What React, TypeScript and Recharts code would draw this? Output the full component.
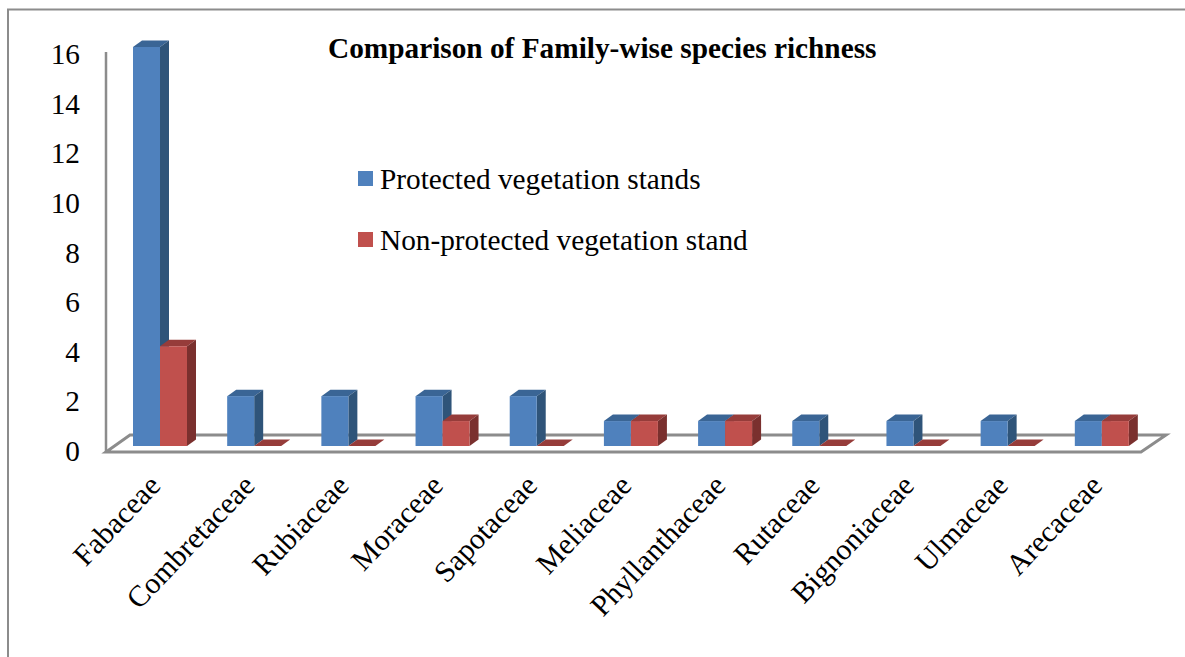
import React from 'react';
import { BarChart, Bar, XAxis, YAxis, Legend } from 'recharts';

const categories = ['Fabaceae','Combretaceae','Rubiaceae','Moraceae','Sapotaceae','Meliaceae','Phyllanthaceae','Rutaceae','Bignoniaceae','Ulmaceae','Arecaceae'];
const protectedStands = [16,2,2,2,2,1,1,1,1,1,1];
const nonProtectedStands = [4,0,0,1,0,1,1,0,0,0,1];
const yTicks = [0,2,4,6,8,10,12,14,16];
const seriesNames = ['Protected vegetation stands','Non-protected vegetation stand'];
const title = 'Comparison of Family-wise species richness';

const data = categories.map((name, i) => ({ name, a: protectedStands[i], b: nonProtectedStands[i] }));
const FONT = '"Liberation Serif", serif';
const DX = 9, DY = -6.5;

const box = (front: string, side: string, top: string) => (p: any) => {
  const { x, y, width: w, height: h } = p;
  return (
    <g>
      <polygon points={`${x},${y} ${x + DX},${y + DY} ${x + w + DX},${y + DY} ${x + w},${y}`} fill={top} />
      {h > 0 && <polygon points={`${x + w},${y} ${x + w + DX},${y + DY} ${x + w + DX},${y + h + DY} ${x + w},${y + h}`} fill={side} />}
      {h > 0 && <rect x={x} y={y} width={w} height={h} fill={front} />}
    </g>
  );
};

const XTick = (p: any) => (
  <text x={p.x + 2} y={487} transform={`rotate(-46.5 ${p.x + 2} 487)`} textAnchor="end" fontFamily={FONT} fontSize={29.8} fill="#000">{p.payload.value}</text>
);
const YTick = (p: any) => (
  <text x={80} y={p.y + 15 + p.payload.value / 8} textAnchor="end" fontFamily={FONT} fontSize={29.3} fill="#000">{p.payload.value}</text>
);

const LegendBox = () => (
  <div style={{ position: 'relative', height: 0, fontFamily: FONT, fontSize: 29.3, color: '#000', whiteSpace: 'nowrap' }}>
    {seriesNames.map((n, i) => (
      <div key={n} style={{ position: 'absolute', left: 0, top: i * 61, height: 32, lineHeight: '32px' }}>
        <span style={{ position: 'absolute', left: 1, top: 8, width: 15, height: 15, background: i ? '#C0504D' : '#4F81BD' }} />
        <span style={{ position: 'absolute', left: 23, top: 0 }}>{n}</span>
      </div>
    ))}
  </div>
);

const G = '#8C8C8C';

export default function App() {
  return (
    <div style={{ position: 'absolute', left: 0, top: 0, width: 1185, height: 657, background: '#fff', overflow: 'hidden' }}>
      <svg width={1185} height={657} style={{ position: 'absolute', left: 0, top: 0 }}>
        <path d="M8 657 V9.5 H1185" fill="none" stroke={G} strokeWidth={2} />
        <path d="M106 452 L130 435 H1166 L1141 452 H106 Z" fill="#fff" stroke={G} strokeWidth={3} strokeLinejoin="miter" />
        <path d="M106 52 V452" fill="none" stroke={G} strokeWidth={2.5} />
      </svg>
      <div style={{ position: 'absolute', left: 328, top: 32, fontFamily: FONT, fontWeight: 700, fontSize: 29.3, lineHeight: '32px', color: '#000', whiteSpace: 'nowrap' }}>{title}</div>
      <div style={{ position: 'absolute', left: 0, top: 0 }}>
        <BarChart width={1185} height={657} data={data} barSize={27} barGap={0}
          margin={{ top: 47, right: 36, bottom: 210, left: 112 }}>
          <XAxis dataKey="name" axisLine={false} tickLine={false} interval={0} tick={XTick} height={1} />
          <YAxis domain={[0, 16]} ticks={yTicks} axisLine={false} tickLine={false} tick={YTick} width={1} />
          <Legend content={LegendBox} wrapperStyle={{ position: 'absolute', left: 357, top: 163, width: 420, height: 0 }} />
          <Bar dataKey="a" name={seriesNames[0]} isAnimationActive={false} shape={box('#4F81BD', '#2F5479', '#3A6595')} />
          <Bar dataKey="b" name={seriesNames[1]} isAnimationActive={false} shape={box('#C0504D', '#7A302E', '#963C3A')} />
        </BarChart>
      </div>
    </div>
  );
}
